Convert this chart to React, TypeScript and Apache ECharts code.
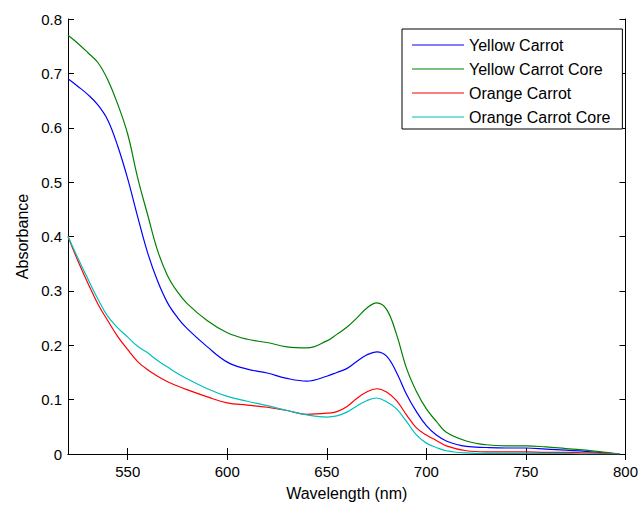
import React, { useEffect, useRef } from "react";
import * as echarts from "echarts";

const wavelengths = [520, 525, 530, 535, 540, 545, 550, 555, 560, 565, 570, 575, 580, 590, 600, 610, 620, 630, 640, 650, 655, 660, 665, 670, 675, 680, 685, 690, 695, 700, 705, 710, 720, 730, 740, 750, 760, 770, 780, 790, 797];

const yellowCarrot = [0.690, 0.676, 0.661, 0.642, 0.614, 0.566, 0.506, 0.436, 0.370, 0.318, 0.278, 0.251, 0.230, 0.197, 0.169, 0.156, 0.149, 0.139, 0.134, 0.143, 0.150, 0.157, 0.170, 0.182, 0.188, 0.180, 0.150, 0.110, 0.078, 0.052, 0.035, 0.024, 0.014, 0.012, 0.011, 0.011, 0.009, 0.007, 0.005, 0.002, 0.000];

const yellowCarrotCore = [0.770, 0.755, 0.738, 0.720, 0.688, 0.643, 0.588, 0.508, 0.440, 0.374, 0.328, 0.298, 0.276, 0.245, 0.223, 0.211, 0.205, 0.197, 0.195, 0.208, 0.220, 0.233, 0.250, 0.268, 0.278, 0.266, 0.220, 0.158, 0.115, 0.083, 0.060, 0.040, 0.024, 0.017, 0.015, 0.015, 0.013, 0.010, 0.007, 0.003, 0.000];

const orangeCarrot = [0.400, 0.355, 0.314, 0.276, 0.245, 0.216, 0.192, 0.170, 0.155, 0.143, 0.133, 0.125, 0.118, 0.105, 0.094, 0.090, 0.086, 0.080, 0.073, 0.075, 0.078, 0.087, 0.102, 0.114, 0.120, 0.114, 0.098, 0.072, 0.048, 0.035, 0.025, 0.015, 0.006, 0.004, 0.004, 0.004, 0.003, 0.003, 0.002, 0.001, 0.000];

const orangeCarrotCore = [0.400, 0.360, 0.322, 0.285, 0.253, 0.232, 0.215, 0.198, 0.186, 0.172, 0.160, 0.148, 0.138, 0.120, 0.106, 0.097, 0.089, 0.080, 0.072, 0.068, 0.070, 0.077, 0.088, 0.098, 0.103, 0.096, 0.083, 0.060, 0.035, 0.020, 0.012, 0.006, 0.002, 0.001, 0.001, 0.001, 0.001, 0.001, 0.000, 0.000, 0.000];

const seriesNames = ["Yellow Carrot", "Yellow Carrot Core", "Orange Carrot", "Orange Carrot Core"];
const seriesValues = [yellowCarrot, yellowCarrotCore, orangeCarrot, orangeCarrotCore];
const seriesColors = ["#0000ff", "#008000", "#ff0000", "#00bfbf"];

const xTicks = [550, 600, 650, 700, 750, 800];

const FONT = "'Liberation Sans', Arial, Helvetica, sans-serif";

export default function App() {
  const ref = useRef<HTMLDivElement>(null);
  useEffect(() => {
    document.body.style.margin = "0";
    const chart = echarts.init(ref.current!, null, { renderer: "svg" });
    const axisLineStyle = { color: "#000", width: 1 };
    chart.setOption({
      animation: false,
      backgroundColor: "#fff",
      textStyle: { fontFamily: FONT },
      grid: { left: 68, right: 14, top: 19, bottom: 45 },
      legend: {
        left: 402,
        top: 29,
        orient: "vertical",
        icon: "rect",
        itemWidth: 52,
        itemHeight: 1.2,
        itemGap: 8,
        padding: [8, 12, 4, 10],
        borderColor: "#000",
        borderWidth: 1,
        backgroundColor: "#fff",
        textStyle: { fontFamily: FONT, fontSize: 16, lineHeight: 16, color: "#000" },
        data: seriesNames,
      },
      xAxis: [
        {
          type: "value",
          min: 520,
          max: 800,
          position: "bottom",
          name: "Wavelength (nm)",
          nameLocation: "middle",
          nameGap: 31,
          nameTextStyle: { fontFamily: FONT, fontSize: 16, color: "#000" },
          axisLine: { show: true, lineStyle: axisLineStyle },
          axisTick: { show: true, inside: true, length: 6, lineStyle: axisLineStyle, customValues: xTicks },
          axisLabel: { show: true, customValues: xTicks, margin: 10, fontFamily: FONT, fontSize: 15, color: "#000" },
          splitLine: { show: false },
        },
        {
          type: "value",
          min: 520,
          max: 800,
          position: "top",
          axisLine: { show: true, lineStyle: axisLineStyle },
          axisTick: { show: true, inside: true, length: 6, lineStyle: axisLineStyle, customValues: xTicks },
          axisLabel: { show: false },
          splitLine: { show: false },
        },
      ],
      yAxis: [
        {
          type: "value",
          min: 0,
          max: 0.8,
          interval: 0.1,
          position: "left",
          name: "Absorbance",
          nameLocation: "middle",
          nameGap: 38,
          nameTextStyle: { fontFamily: FONT, fontSize: 16, color: "#000" },
          axisLine: { show: true, lineStyle: axisLineStyle },
          axisTick: { show: true, inside: true, length: 6, lineStyle: axisLineStyle },
          axisLabel: {
            margin: 6,
            fontFamily: FONT,
            fontSize: 15,
            color: "#000",
            formatter: (v: number) => (v === 0 ? "0" : v.toFixed(1)),
          },
          splitLine: { show: false },
        },
        {
          type: "value",
          min: 0,
          max: 0.8,
          interval: 0.1,
          position: "right",
          axisLine: { show: true, lineStyle: axisLineStyle },
          axisTick: { show: true, inside: true, length: 6, lineStyle: axisLineStyle },
          axisLabel: { show: false },
          splitLine: { show: false },
        },
      ],
      series: seriesNames.map((name, i) => ({
        name,
        type: "line",
        xAxisIndex: 0,
        yAxisIndex: 0,
        showSymbol: false,
        symbol: "none",
        smooth: 0.4,
        color: seriesColors[i],
        lineStyle: { color: seriesColors[i], width: 1.2 },
        data: wavelengths.map((w, j) => [w, seriesValues[i][j]]),
      })),
    });
    return () => chart.dispose();
  }, []);
  return <div ref={ref} style={{ width: 641, height: 506 }} />;
}
